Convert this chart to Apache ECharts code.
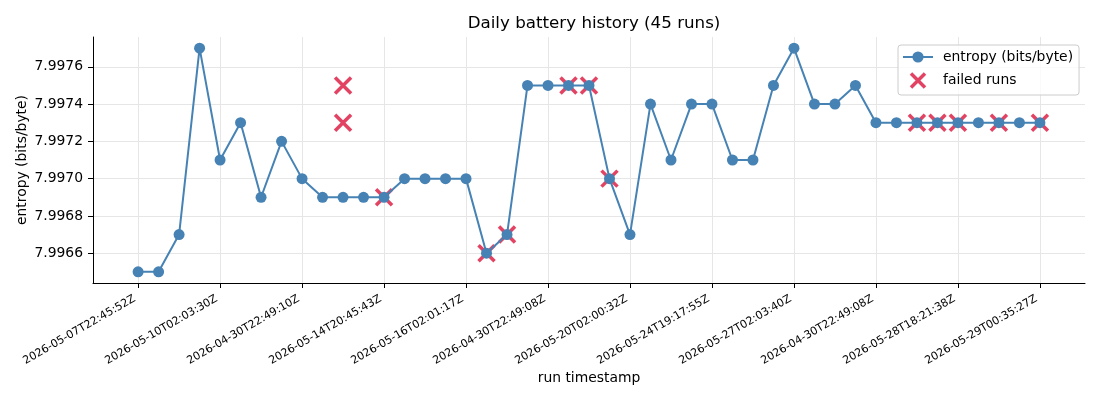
<!DOCTYPE html>
<html>
<head>
<meta charset="utf-8">
<script src="https://cdn.jsdelivr.net/npm/echarts@6/dist/echarts.min.js"></script>
<style>
html,body{margin:0;padding:0;background:#fff;}
#chart{width:1100px;height:400px;}
</style>
</head>
<body>
<div id="chart"></div>
<script>
const categories = [
  "2026-05-07T22:45:52Z","2026-05-08T02:01:14Z","2026-05-08T22:47:05Z","2026-05-09T02:02:41Z",
  "2026-05-10T02:03:30Z","2026-05-10T22:46:18Z","2026-05-11T02:00:57Z","2026-05-11T22:45:39Z",
  "2026-04-30T22:49:10Z","2026-05-12T02:02:23Z","2026-05-12T22:46:50Z","2026-05-13T02:01:36Z",
  "2026-05-14T20:45:43Z","2026-05-15T02:00:48Z","2026-05-15T22:45:11Z","2026-05-16T00:12:09Z",
  "2026-05-16T02:01:17Z","2026-05-16T22:47:32Z","2026-05-17T02:03:04Z","2026-05-17T22:45:26Z",
  "2026-04-30T22:49:08Z","2026-05-18T02:02:15Z","2026-05-18T22:46:02Z","2026-05-19T02:01:49Z",
  "2026-05-20T02:00:32Z","2026-05-20T22:45:58Z","2026-05-21T02:02:37Z","2026-05-22T22:46:21Z",
  "2026-05-24T19:17:55Z","2026-05-25T02:01:03Z","2026-05-25T22:45:44Z","2026-05-26T02:02:51Z",
  "2026-05-27T02:03:40Z","2026-05-27T09:14:27Z","2026-05-27T14:36:12Z","2026-05-27T22:45:19Z",
  "2026-04-30T22:49:08Z","2026-05-28T02:01:55Z","2026-05-28T08:33:46Z","2026-05-28T12:10:29Z",
  "2026-05-28T18:21:38Z","2026-05-28T20:02:07Z","2026-05-28T22:45:33Z","2026-05-28T23:40:14Z",
  "2026-05-29T00:35:27Z"
];
const entropy = [
  7.9965, 7.9965, 7.9967, 7.9977, 7.9971, 7.9973, 7.9969, 7.9972, 7.9970, 7.9969,
  7.9969, 7.9969, 7.9969, 7.9970, 7.9970, 7.9970, 7.9970, 7.9966, 7.9967, 7.9975,
  7.9975, 7.9975, 7.9975, 7.9970, 7.9967, 7.9974, 7.9971, 7.9974, 7.9974, 7.9971,
  7.9971, 7.9975, 7.9977, 7.9974, 7.9974, 7.9975, 7.9973, 7.9973, 7.9973, 7.9973,
  7.9973, 7.9973, 7.9973, 7.9973, 7.9973
];
const failedIdx = [10, 10, 12, 17, 18, 21, 22, 23, 38, 39, 40, 42, 44];
const failedVals = [7.9975, 7.9973, 7.9969, 7.9966, 7.9967, 7.9975, 7.9975, 7.9970, 7.9973, 7.9973, 7.9973, 7.9973, 7.9973];
const xTicks = [0, 4, 8, 12, 16, 20, 24, 28, 32, 36, 40, 44];
const yTicks = [7.9966, 7.9968, 7.9970, 7.9972, 7.9974, 7.9976];

const FONT = "DejaVu Sans";
const crossPath = 'path://M0,0L10,10M10,0L0,10';
const RED = '#dc143c';
const BLUE = '#4682b4';

const chart = echarts.init(document.getElementById('chart'), null, {renderer: 'canvas'});
chart.setOption({
  animation: false,
  backgroundColor: '#ffffff',
  textStyle: {fontFamily: FONT},
  title: {
    text: 'Daily battery history (45 runs)',
    left: 589, top: 10, textAlign: 'center',
    textStyle: {fontFamily: FONT, fontSize: 16.7, fontWeight: 'normal', color: '#000'}
  },
  legend: {
    orient: 'vertical',
    left: 898, top: 45,
    padding: [5, 6, 5, 4],
    itemWidth: 30, itemHeight: 14, itemGap: 7,
    backgroundColor: 'rgba(255,255,255,0.8)',
    borderColor: '#cccccc', borderWidth: 1, borderRadius: 3,
    textStyle: {fontFamily: FONT, fontSize: 13.9, color: '#000', padding: [0, 0, 0, 5]},
    data: [
      {name: 'entropy (bits/byte)'},
      {name: 'failed runs', itemStyle: {color: 'none', borderColor: RED, borderWidth: 3.5}}
    ]
  },
  grid: {left: 93, right: 15, top: 37, bottom: 117, containLabel: false},
  xAxis: {
    type: 'value',
    min: -2.2, max: 46.2,
    name: 'run timestamp',
    nameLocation: 'middle', nameGap: 88, nameMoveOverlap: false,
    nameTextStyle: {fontFamily: FONT, fontSize: 13.9, color: '#000'},
    axisLine: {show: true, onZero: false, lineStyle: {color: '#000', width: 1}},
    axisTick: {show: true, inside: false, customValues: xTicks, length: 5, lineStyle: {color: '#000', width: 1}},
    axisLabel: {
      customValues: xTicks, rotate: 30, margin: 13,
      padding: [0, 4, 0, 0],
      fontFamily: FONT, fontSize: 11, color: '#000',
      formatter: v => categories[Math.round(v)] || ''
    },
    splitLine: {show: true, lineStyle: {color: '#e6e6e6', width: 1}}
  },
  yAxis: {
    type: 'value',
    min: 7.99644, max: 7.99776,
    name: 'entropy (bits/byte)',
    nameLocation: 'middle', nameGap: 64, nameRotate: 90, nameMoveOverlap: false,
    nameTextStyle: {fontFamily: FONT, fontSize: 13.9, color: '#000'},
    axisLine: {show: true, onZero: false, lineStyle: {color: '#000', width: 1}},
    axisTick: {show: true, inside: false, customValues: yTicks, length: 5, lineStyle: {color: '#000', width: 1}},
    axisLabel: {
      customValues: yTicks, margin: 10,
      fontFamily: FONT, fontSize: 13.9, color: '#000',
      formatter: v => v.toFixed(4)
    },
    splitLine: {show: true, lineStyle: {color: '#e6e6e6', width: 1}}
  },
  series: [
    {
      name: 'failed runs',
      type: 'scatter',
      z: 2,
      symbol: crossPath,
      symbolSize: 16,
      itemStyle: {color: 'none', borderColor: RED, borderWidth: 3.5},
      data: failedIdx.map((x, i) => [x, failedVals[i]])
    },
    {
      name: 'entropy (bits/byte)',
      type: 'line',
      z: 3,
      symbol: 'circle',
      symbolSize: 11,
      showAllSymbol: true,
      lineStyle: {color: BLUE, width: 2},
      itemStyle: {color: BLUE, borderWidth: 0},
      data: entropy.map((v, i) => [i, v])
    }
  ]
});
</script>
</body>
</html>
